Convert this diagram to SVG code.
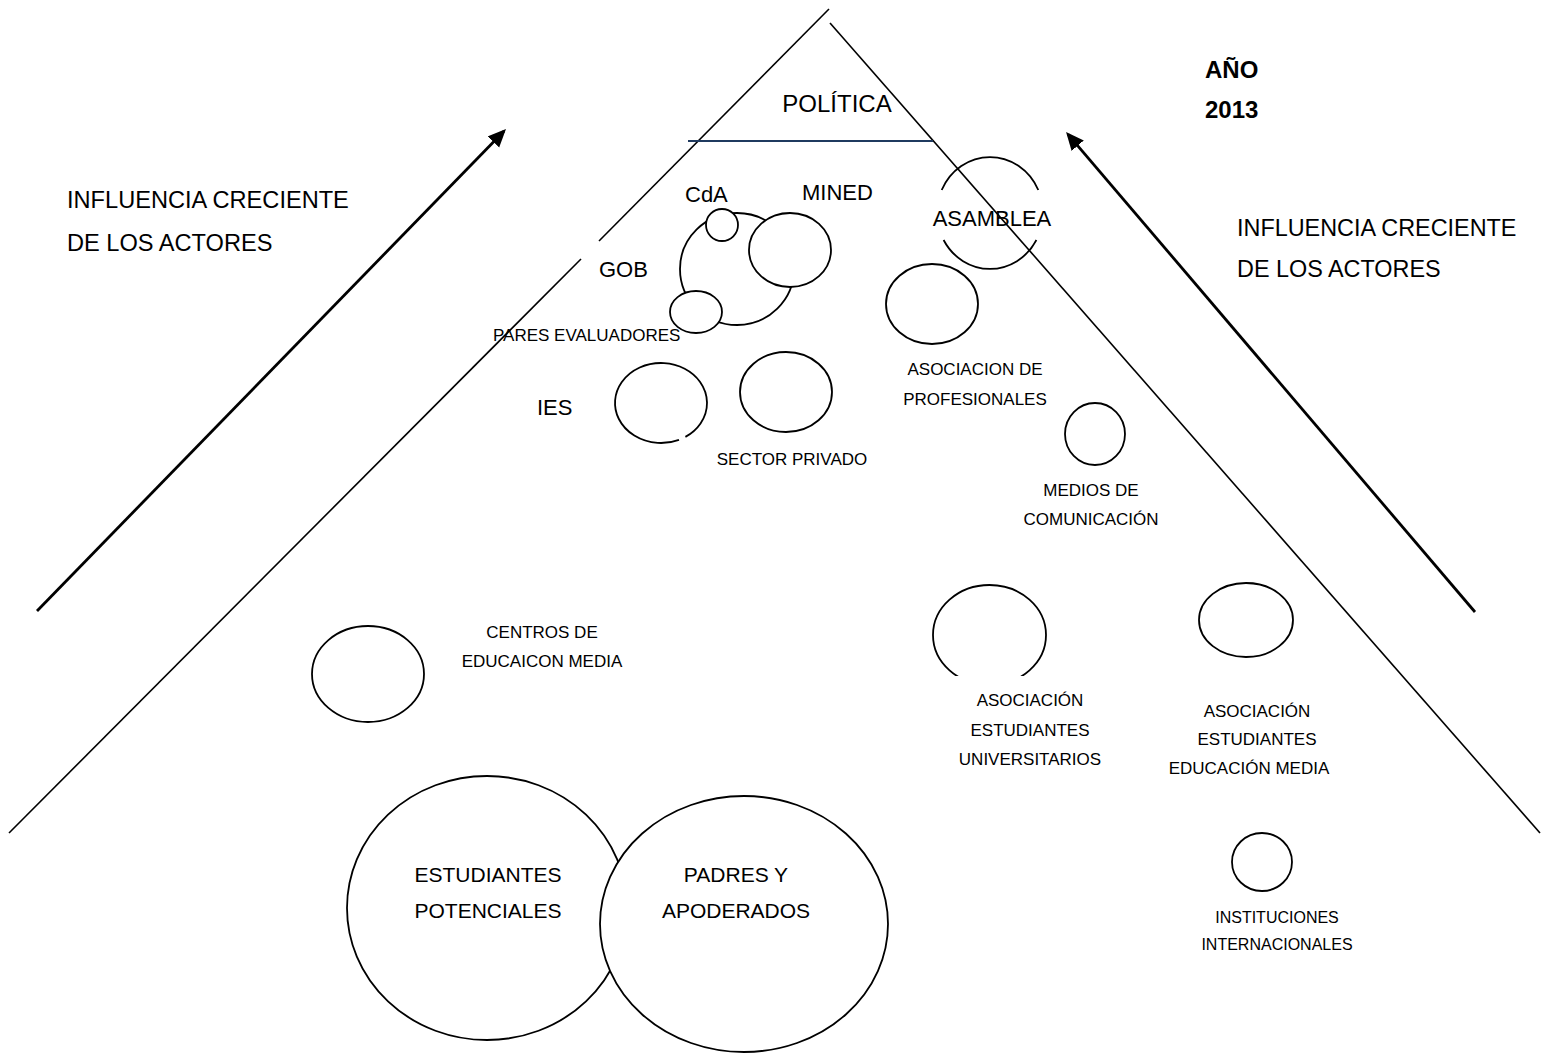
<svg xmlns="http://www.w3.org/2000/svg" width="1541" height="1060" viewBox="0 0 1541 1060">
<style>
text{font-family:"Liberation Sans",Arial,sans-serif;fill:#000}
.c{fill:#fff;stroke:#000;stroke-width:1.8}
.arc{fill:none;stroke:#000;stroke-width:1.8}
.frame{stroke:#000;stroke-width:1.6;fill:none}
.arrow{stroke:#000;stroke-width:2.8;fill:none;marker-end:url(#ah)}
.m{text-anchor:middle}
.s17{font-size:17px}
.s16{font-size:16px}
.s22{font-size:22px}
</style>
<defs>
<marker id="ah" markerUnits="userSpaceOnUse" markerWidth="20" markerHeight="18" refX="15" refY="8" orient="auto">
<path d="M0,0 L18,8 L0,16 z" fill="#000"/>
</marker>
<clipPath id="clipU"><rect x="900" y="560" width="180" height="116"/></clipPath>
</defs>
<rect width="1541" height="1060" fill="#fff"/>

<g id="pyramid">
<line class="frame" x1="829" y1="9" x2="599" y2="241"/>
<line class="frame" x1="581" y1="259" x2="9" y2="833"/>
<line class="frame" x1="830" y1="23" x2="1540" y2="833"/>
<line x1="688" y1="141" x2="933" y2="141" stroke="#1f3a5f" stroke-width="1.8"/>
</g>

<g id="politica"><text x="837" y="112" class="m" font-size="24">POLÍTICA</text></g>

<g id="titulo">
<text x="1205" y="78" font-size="24" font-weight="bold">AÑO</text>
<text x="1205" y="118" font-size="24" font-weight="bold">2013</text>
</g>

<g id="influencia-izq">
<text x="67" y="208" font-size="23.6">INFLUENCIA CRECIENTE</text>
<text x="67" y="251" font-size="23.6">DE LOS ACTORES</text>
</g>
<g id="influencia-der">
<text x="1237" y="236" font-size="23.4">INFLUENCIA CRECIENTE</text>
<text x="1237" y="277" font-size="23.4">DE LOS ACTORES</text>
</g>

<g id="connectors">
<line class="arrow" x1="37" y1="611" x2="503.9" y2="131.2"/>
<line class="arrow" x1="1475" y1="612" x2="1068" y2="134.3"/>
</g>

<g id="gob">
<ellipse class="c" cx="737" cy="269" rx="57" ry="56"/>
<text x="599" y="277" class="s22">GOB</text>
</g>
<g id="mined">
<ellipse class="c" cx="790" cy="250" rx="41" ry="37"/>
<text x="802" y="200" class="s22">MINED</text>
</g>
<g id="cda">
<ellipse class="c" cx="722" cy="225" rx="16" ry="16"/>
<text x="685" y="202" class="s22">CdA</text>
</g>
<g id="pares">
<ellipse class="c" cx="696" cy="312" rx="26" ry="21"/>
<text x="493" y="341" class="s17">PARES EVALUADORES</text>
</g>

<g id="asamblea">
<path class="arc" d="M941.7,190 A53,56 0 0 1 1038.3,190"/>
<path class="arc" d="M943.6,240 A53,56 0 0 0 1036.4,240"/>
<text x="992" y="226" class="m s22">ASAMBLEA</text>
</g>

<g id="asoc-profesionales">
<ellipse class="c" cx="932" cy="304" rx="46" ry="40"/>
<text x="975" y="375" class="m s17">ASOCIACION DE</text>
<text x="975" y="405" class="m s17">PROFESIONALES</text>
</g>

<g id="ies">
<path class="arc" d="M685.4,436.9 A46,40 0 1 0 679,439.8"/>
<text x="537" y="415" class="s22">IES</text>
</g>

<g id="sector-privado">
<ellipse class="c" cx="786" cy="392" rx="46" ry="40"/>
<text x="792" y="465" class="m s17">SECTOR PRIVADO</text>
</g>

<g id="medios">
<ellipse class="c" cx="1095" cy="434" rx="30" ry="31"/>
<text x="1091" y="496" class="m s17">MEDIOS DE</text>
<text x="1091" y="525" class="m s17">COMUNICACIÓN</text>
</g>

<g id="centros">
<ellipse class="c" cx="368" cy="674" rx="56" ry="48"/>
<text x="542" y="638" class="m s17">CENTROS DE</text>
<text x="542" y="667" class="m s17">EDUCAICON MEDIA</text>
</g>

<g id="asoc-universitarios">
<ellipse class="c" cx="989.5" cy="635" rx="56.5" ry="50" clip-path="url(#clipU)"/>
<text x="1030" y="706" class="m s17">ASOCIACIÓN</text>
<text x="1030" y="736" class="m s17">ESTUDIANTES</text>
<text x="1030" y="765" class="m s17">UNIVERSITARIOS</text>
</g>

<g id="asoc-media">
<ellipse class="c" cx="1246" cy="620" rx="47" ry="37"/>
<text x="1257" y="717" class="m s17">ASOCIACIÓN</text>
<text x="1257" y="745" class="m s17">ESTUDIANTES</text>
<text x="1249" y="774" class="m s17">EDUCACIÓN MEDIA</text>
</g>

<g id="instituciones">
<ellipse class="c" cx="1262" cy="862" rx="30" ry="29"/>
<text x="1277" y="923" class="m s16">INSTITUCIONES</text>
<text x="1277" y="950" class="m s16">INTERNACIONALES</text>
</g>

<g id="estudiantes">
<ellipse class="c" cx="487" cy="908" rx="140" ry="132"/>
<text x="488" y="882" class="m" font-size="21">ESTUDIANTES</text>
<text x="488" y="918" class="m" font-size="21">POTENCIALES</text>
</g>

<g id="padres">
<ellipse class="c" cx="744" cy="924" rx="144" ry="128"/>
<text x="736" y="882" class="m" font-size="21">PADRES Y</text>
<text x="736" y="918" class="m" font-size="21">APODERADOS</text>
</g>
</svg>
